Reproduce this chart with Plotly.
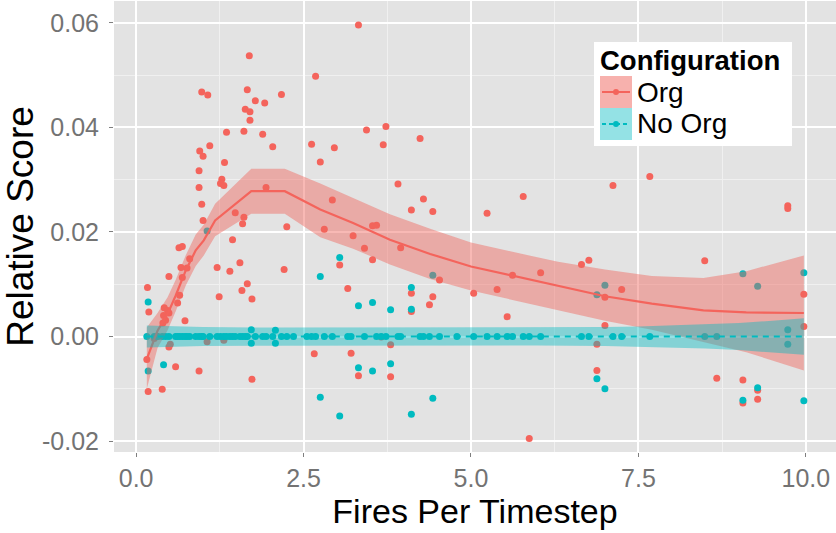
import plotly.graph_objects as go

RED = "#F4645C"
TEAL = "#00BBC0"

# ---------------- data ----------------
org_x = [0.98, 1.07, 1.66, 1.78, 1.92, 1.63, 1.70, 1.70, 1.35, 1.61, 1.89, 2.04, 1.10, 0.95, 1.00,
         1.32, 0.94, 1.28, 1.26, 1.31, 0.94, 1.94, 0.98, 1.48, 1.61, 1.59, 1.00, 1.44, 1.69, 2.17,
         2.25, 0.64, 0.69, 3.32, 2.68, 2.62, 2.96, 2.75, 3.44, 3.73, 3.69, 4.24, 3.91, 4.29, 4.11,
         4.43, 2.93, 2.81, 3.24, 3.53, 3.59, 5.24, 5.78, 7.12, 7.67, 9.73, 9.73, 3.95, 5.04, 5.39,
         5.62, 6.04, 5.54, 6.65, 6.76, 7.25, 7.00, 7.00, 6.88, 6.88, 5.87, 8.49, 8.67, 9.06, 9.06,
         9.28, 9.28, 9.97, 9.97, 4.11, 4.11, 4.38, 4.43, 4.53, 3.80, 3.80, 2.21, 3.04, 3.41, 3.53,
         3.16, 2.66, 3.21, 3.32, 3.66, 0.80, 0.67, 0.76, 0.49, 1.21, 1.40, 1.55, 1.66, 1.58, 1.73,
         1.24, 0.17, 0.19, 0.69, 0.65, 0.62, 0.73, 0.42, 0.47, 0.41, 0.44, 0.40, 0.49, 0.51, 0.49,
         0.16, 0.59, 0.94, 1.73, 1.06, 1.31, 0.18, 0.39, 0.27, 0.32]
org_y = [0.0468, 0.0462, 0.0472, 0.0451, 0.0447, 0.0435, 0.0430, 0.0414, 0.0391, 0.0393, 0.0387,
         0.0363, 0.0365, 0.0355, 0.0345, 0.0333, 0.0317, 0.0301, 0.0293, 0.0289, 0.0285, 0.0285,
         0.0253, 0.0237, 0.0228, 0.0216, 0.0222, 0.0185, 0.0537, 0.0463, 0.0210, 0.0170, 0.0172,
         0.0596, 0.0498, 0.0368, 0.0361, 0.0334, 0.0395, 0.0402, 0.0367, 0.0379, 0.0292, 0.0263,
         0.0242, 0.0239, 0.0261, 0.0205, 0.0193, 0.0212, 0.0213, 0.0236, 0.0268, 0.0289, 0.0306,
         0.0250, 0.0245, 0.0170, 0.0083, 0.0090, 0.0117, 0.0122, 0.0038, 0.0138, 0.0146, 0.0090,
         0.0075, 0.0021, -0.0015, -0.0065, -0.0195, 0.0145, -0.0080, -0.0083, -0.0127, -0.0103,
         -0.0120, 0.0081, 0.0019, 0.0083, 0.0048, 0.0061, 0.0076, 0.0108, -0.0016, -0.0077,
         0.0128, 0.0137, 0.0169, 0.0147, 0.0092, -0.0033, -0.0032, -0.0075, -0.0001, 0.0149,
         0.0132, 0.0131, 0.0115, 0.0132, 0.0125, 0.0141, 0.0101, 0.0088, 0.0072, 0.0076, 0.0094,
         0.0047, 0.0113, 0.0079, 0.0064, 0.0030, 0.0055, 0.0050, 0.0040, 0.0031, 0.0026, 0.0045,
         -0.0015, -0.0020, -0.0044, -0.0058, -0.0066, -0.0082, -0.0010, -0.0007, -0.0105, -0.0101,
         -0.0004, 0.0000]

noorg_x = [0.18, 0.18, 0.41, 1.06, 1.72, 1.72, 2.08, 2.08, 2.75, 2.75, 3.04, 3.04, 3.32, 3.32,
           3.53, 3.53, 3.80, 3.80, 4.11, 4.11, 4.11, 4.43, 4.43, 6.88, 6.88, 7.00, 7.00, 9.06,
           9.06, 9.28, 9.28, 9.73, 9.73, 9.97, 9.97,
           0.16, 0.27, 0.32, 0.39, 0.44, 0.49, 0.59, 0.62, 0.65, 0.69, 0.73, 0.76, 0.80, 0.89,
           0.94, 0.98, 1.00, 1.10, 1.21, 1.26, 1.31, 1.35, 1.40, 1.44, 1.48, 1.55, 1.59, 1.63,
           1.66, 1.78, 1.89, 1.94, 2.04, 2.17, 2.25, 2.35, 2.55, 2.62, 2.68, 2.81, 2.93, 3.16,
           3.21, 3.41, 3.59, 3.66, 3.73, 3.91, 3.95, 4.24, 4.29, 4.38, 4.53, 4.79, 5.04, 5.24,
           5.39, 5.54, 5.62, 5.78, 5.87, 6.04, 6.65, 6.76, 7.12, 7.25, 7.67, 8.49, 8.67]
noorg_y = [0.0066, -0.0066, -0.0054, 0.0202, 0.0013, -0.0013, 0.0012, -0.0013, 0.0115, -0.0116,
           0.0151, -0.0152, 0.0059, -0.0060, 0.0065, -0.0066, 0.0051, -0.0052, 0.0094, 0.0052,
           -0.0149, 0.0117, -0.0118, 0.0080, -0.0081, 0.0098, -0.0100, 0.0120, -0.0122, 0.0096,
           -0.0098, 0.0013, -0.0015, 0.0122, -0.0123,
           0.0, 0.0, 0.0, 0.0, 0.0, 0.0, 0.0, 0.0, 0.0, 0.0, 0.0, 0.0, 0.0, 0.0, 0.0, 0.0, 0.0,
           0.0, 0.0, 0.0, 0.0, 0.0, 0.0, 0.0, 0.0, 0.0, 0.0, 0.0, 0.0, 0.0, 0.0, 0.0, 0.0, 0.0,
           0.0, 0.0, 0.0, 0.0, 0.0, 0.0, 0.0, 0.0, 0.0, 0.0, 0.0, 0.0, 0.0, 0.0, 0.0, 0.0, 0.0,
           0.0, 0.0, 0.0, 0.0, 0.0, 0.0, 0.0, 0.0, 0.0, 0.0, 0.0, 0.0, 0.0, 0.0, 0.0, 0.0, 0.0,
           0.0, 0.0, 0.0]

# smoothed fits (loess) with confidence band
org_fit_x = [0.16, 0.32, 0.47, 0.59, 0.74, 0.89, 1.01, 1.18, 1.72, 2.22, 2.75, 3.24, 3.79, 4.39,
             5.00, 5.62, 6.30, 7.00, 7.70, 8.47, 9.11, 9.97]
org_fit = [-0.0043, 0.0011, 0.0043, 0.0078, 0.0126, 0.0165, 0.0184, 0.0222, 0.0278, 0.0278,
           0.0243, 0.0217, 0.0185, 0.0158, 0.0134, 0.0116, 0.0096, 0.0077, 0.0063, 0.0050,
           0.0046, 0.0045]
org_hi = [0.0017, 0.0045, 0.0075, 0.0108, 0.0155, 0.0195, 0.0214, 0.0254, 0.0321, 0.0321,
          0.0293, 0.0265, 0.0234, 0.0206, 0.0180, 0.0162, 0.0143, 0.0128, 0.0116, 0.0112,
          0.0125, 0.0155]
org_lo = [-0.0100, -0.0022, 0.0012, 0.0048, 0.0097, 0.0135, 0.0155, 0.0192, 0.0235, 0.0235,
          0.0190, 0.0168, 0.0138, 0.0110, 0.0088, 0.0070, 0.0050, 0.0030, 0.0013, -0.0010,
          -0.0030, -0.0065]

noorg_fit_x = [0.16, 1.0, 2.0, 3.0, 4.0, 5.0, 6.0, 7.0, 7.5, 8.0, 8.5, 9.0, 9.5, 9.97]
noorg_fit = [0.0, 0.0, 0.0, 0.0, 0.0, 0.0, 0.0, 0.0, 0.0, 0.0, 0.0, 0.0, 0.0, 0.0]
noorg_hi = [0.0021, 0.0018, 0.0017, 0.0017, 0.0017, 0.0017, 0.0017, 0.0018, 0.0019, 0.0021,
            0.0023, 0.0026, 0.0030, 0.0035]
noorg_lo = [-0.0021, -0.0018, -0.0017, -0.0017, -0.0017, -0.0017, -0.0017, -0.0018, -0.0019,
            -0.0021, -0.0023, -0.0026, -0.0030, -0.0035]

x_tick_vals = [0, 2.5, 5, 7.5, 10]
x_tick_text = ["0.0", "2.5", "5.0", "7.5", "10.0"]
x_minor_vals = [1.25, 3.75, 6.25, 8.75]
y_tick_vals = [-0.02, 0.0, 0.02, 0.04, 0.06]
y_tick_text = ["-0.02", "0.00", "0.02", "0.04", "0.06"]
y_minor_vals = [-0.01, 0.01, 0.03, 0.05]

legend_title = "Configuration"
config_names = ["Org", "No Org"]
x_title = "Fires Per Timestep"
y_title = "Relative Score"

# ---------------- layout geometry ----------------
W, H = 836, 533
ML, MR, MT, MB = 114, 0, 1, 81
PW, PH = W - ML - MR, H - MT - MB
FONT = "Liberation Sans, Arial, Helvetica, sans-serif"


def px_x(p):
    return (p - ML) / PW


def px_y(p):
    return (H - MB - p) / PH


fig = go.Figure()

# points
fig.add_trace(go.Scatter(x=org_x, y=org_y, mode="markers", name=config_names[0],
                         marker=dict(color=RED, size=7, line=dict(width=0)), showlegend=False))
fig.add_trace(go.Scatter(x=noorg_x, y=noorg_y, mode="markers", name=config_names[1],
                         marker=dict(color=TEAL, size=7, line=dict(width=0)), showlegend=False))

# Org smooth
fig.add_trace(go.Scatter(x=org_fit_x + org_fit_x[::-1], y=org_hi + org_lo[::-1], fill="toself",
                         fillcolor="rgba(240,100,92,0.45)", line=dict(width=0), mode="lines",
                         hoverinfo="skip", showlegend=False))
fig.add_trace(go.Scatter(x=org_fit_x, y=org_fit, mode="lines", line=dict(color=RED, width=2.2),
                         showlegend=False, name=config_names[0]))
# No Org smooth
fig.add_trace(go.Scatter(x=noorg_fit_x + noorg_fit_x[::-1], y=noorg_hi + noorg_lo[::-1],
                         fill="toself", fillcolor="rgba(0,187,192,0.42)", line=dict(width=0),
                         mode="lines", hoverinfo="skip", showlegend=False))
fig.add_trace(go.Scatter(x=noorg_fit_x, y=noorg_fit, mode="lines",
                         line=dict(color=TEAL, width=2.2, dash="6px,5px"),
                         showlegend=False, name=config_names[1]))

# ---------------- hand-drawn legend (ggplot style) ----------------
shapes = []
annotations = []
shapes.append(dict(type="rect", xref="paper", yref="paper", x0=px_x(594), x1=px_x(792),
                   y0=px_y(146), y1=px_y(42), fillcolor="white", line=dict(width=0), layer="above"))
annotations.append(dict(xref="paper", yref="paper", x=px_x(598), y=px_y(60), text="<b>%s</b>" % legend_title,
                        showarrow=False, xanchor="left", yanchor="middle",
                        font=dict(family=FONT, size=27.5, color="black")))
keys = [(config_names[0], RED, "rgba(240,100,92,0.5)", "solid", 76),
        (config_names[1], TEAL, "rgba(0,187,192,0.42)", "4px,3px", 108)]
for name, col, fillc, dash, top in keys:
    shapes.append(dict(type="rect", xref="paper", yref="paper", x0=px_x(600), x1=px_x(632),
                       y0=px_y(top + 32), y1=px_y(top), fillcolor=fillc, line=dict(width=0),
                       layer="above"))
    cy = top + 16
    shapes.append(dict(type="line", xref="paper", yref="paper", x0=px_x(602), x1=px_x(630),
                       y0=px_y(cy), y1=px_y(cy), line=dict(color=col, width=2, dash=dash),
                       layer="above"))
    shapes.append(dict(type="circle", xref="paper", yref="paper", xsizemode="pixel", ysizemode="pixel",
                       xanchor=px_x(616), yanchor=px_y(cy), x0=-3, x1=3, y0=-3, y1=3,
                       fillcolor=col, line=dict(width=0), layer="above"))
    annotations.append(dict(xref="paper", yref="paper", x=px_x(635), y=px_y(cy), text=name,
                            showarrow=False, xanchor="left", yanchor="middle",
                            font=dict(family=FONT, size=28, color="black")))

fig.update_layout(
    width=W, height=H,
    margin=dict(l=ML, r=MR, t=MT, b=MB, pad=0),
    paper_bgcolor="white", plot_bgcolor="#E3E3E3",
    font=dict(family=FONT),
    showlegend=False,
    shapes=shapes, annotations=annotations,
    xaxis=dict(range=[-0.33, 10.45], tickmode="array", tickvals=x_tick_vals, ticktext=x_tick_text,
               ticks="outside", ticklen=4, tickwidth=1, tickcolor="#7F7F7F", ticklabelstandoff=0,
               tickfont=dict(family=FONT, size=25, color="#737373"),
               showgrid=True, gridcolor="white", gridwidth=1.6, zeroline=False, showline=False,
               minor=dict(tickmode="array", tickvals=x_minor_vals, showgrid=True,
                          gridcolor="#F0F0F0", gridwidth=0.8, ticks=""),
               title=dict(text=x_title, font=dict(family=FONT, size=34, color="black"), standoff=5),
               automargin=False),
    yaxis=dict(range=[-0.0221, 0.0642], tickmode="array", tickvals=y_tick_vals, ticktext=y_tick_text,
               ticks="outside", ticklen=4, tickwidth=1, tickcolor="#7F7F7F", ticklabelstandoff=5,
               tickfont=dict(family=FONT, size=25, color="#737373"),
               showgrid=True, gridcolor="white", gridwidth=1.6, zeroline=False, showline=False,
               minor=dict(tickmode="array", tickvals=y_minor_vals, showgrid=True,
                          gridcolor="#F0F0F0", gridwidth=0.8, ticks=""),
               title=dict(text=y_title, font=dict(family=FONT, size=37, color="black"), standoff=0),
               automargin=False),
)

fig.write_html("out.html")
